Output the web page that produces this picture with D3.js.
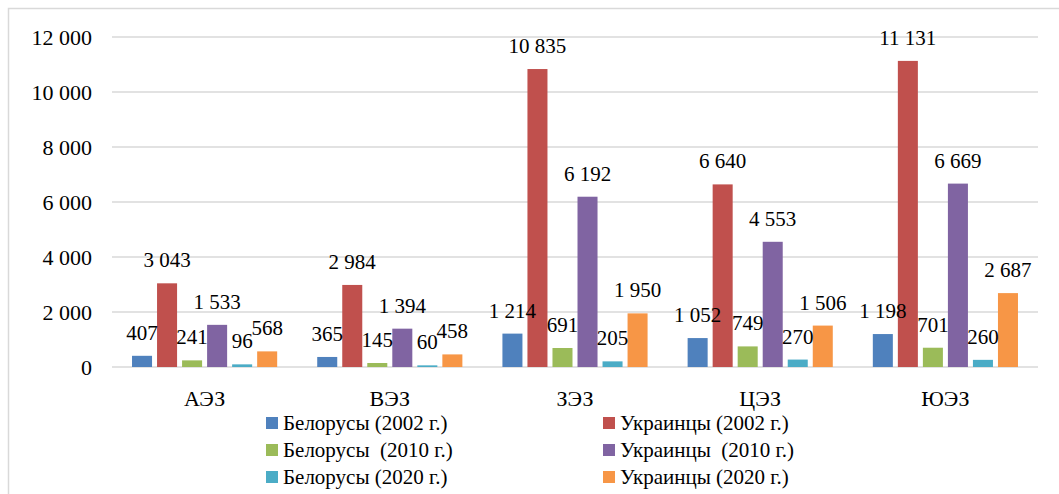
<!DOCTYPE html>
<html>
<head>
<meta charset="utf-8">
<script src="https://cdn.jsdelivr.net/npm/d3@7"></script>
<style>
  body { margin: 0; background: #fff; }
</style>
</head>
<body>
<div id="chart"></div>
<script>
const regions = ['АЭЗ', 'ВЭЗ', 'ЗЭЗ', 'ЦЭЗ', 'ЮЭЗ'];
const seriesNames = [
  'Белорусы (2002 г.)', 'Украинцы (2002 г.)',
  'Белорусы  (2010 г.)', 'Украинцы  (2010 г.)',
  'Белорусы (2020 г.)', 'Украинцы (2020 г.)'
];
const seriesColors = ['#4f81bd', '#c0504d', '#9bbb59', '#8064a2', '#4bacc6', '#f79646'];
const belarus2002 = [407, 365, 1214, 1052, 1198];
const ukraine2002 = [3043, 2984, 10835, 6640, 11131];
const belarus2010 = [241, 145, 691, 749, 701];
const ukraine2010 = [1533, 1394, 6192, 4553, 6669];
const belarus2020 = [96, 60, 205, 270, 260];
const ukraine2020 = [568, 458, 1950, 1506, 2687];
const yTicks = [0, 2000, 4000, 6000, 8000, 10000, 12000];

const seriesValues = [belarus2002, ukraine2002, belarus2010, ukraine2010, belarus2020, ukraine2020];

const FONT = 'Liberation Serif';
const config = {
  totalWidth: 1059,
  totalHeight: 494,
  plot: { left: 112, right: 1038, top: 37, bottom: 367 }
};

const fmt = d3.formatLocale({ decimal: ',', thousands: '\u00a0', grouping: [3], currency: ['', ''] }).format(',d');

const svg = d3.select('#chart').append('svg')
  .attr('width', config.totalWidth)
  .attr('height', config.totalHeight)
  .attr('font-family', FONT);

// outer frame
svg.append('rect')
  .attr('x', 8.5).attr('y', 8.5)
  .attr('width', 1070).attr('height', 520)
  .attr('fill', '#fff')
  .attr('stroke', '#d9d9d9')
  .attr('stroke-width', 1.5);

const x0 = d3.scaleBand()
  .domain(regions)
  .range([config.plot.left, config.plot.right])
  .padding(0);

const x1 = d3.scaleBand()
  .domain(d3.range(seriesNames.length))
  .range([0, x0.bandwidth()])
  .paddingInner(0.2)
  .paddingOuter(0.8);

const y = d3.scaleLinear()
  .domain([0, 12000])
  .range([config.plot.bottom, config.plot.top]);

// gridlines
svg.append('g')
  .selectAll('line')
  .data(yTicks)
  .enter()
  .append('line')
  .attr('x1', config.plot.left)
  .attr('x2', config.plot.right)
  .attr('y1', d => y(d))
  .attr('y2', d => y(d))
  .attr('stroke', '#d9d9d9')
  .attr('stroke-width', 1.5);

// y axis labels
const yAxis = svg.append('g')
  .attr('transform', `translate(${config.plot.left - 20},0)`)
  .call(d3.axisLeft(y).tickValues(yTicks).tickSize(0).tickFormat(fmt));
yAxis.attr('font-family', FONT);
yAxis.select('.domain').remove();
yAxis.selectAll('text')
  .attr('x', 0)
  .attr('font-family', FONT)
  .attr('font-size', 22)
  .attr('fill', '#000');

// bars
const rows = regions.map((r, i) => ({ region: r, values: seriesValues.map(s => s[i]) }));

const groups = svg.append('g')
  .selectAll('g')
  .data(rows)
  .enter()
  .append('g')
  .attr('transform', d => `translate(${x0(d.region)},0)`);

groups.selectAll('rect')
  .data(d => d.values.map((v, k) => ({ k, v })))
  .enter()
  .append('rect')
  .attr('x', d => x1(d.k))
  .attr('y', d => y(d.v))
  .attr('width', x1.bandwidth())
  .attr('height', d => y(0) - y(d.v))
  .attr('fill', d => seriesColors[d.k]);

groups.selectAll('text')
  .data(d => d.values.map((v, k) => ({ k, v })))
  .enter()
  .append('text')
  .attr('x', d => x1(d.k) + x1.bandwidth() / 2)
  .attr('y', d => y(d.v) - 16)
  .attr('text-anchor', 'middle')
  .attr('font-family', FONT)
  .attr('font-size', 21)
  .attr('fill', '#000')
  .text(d => fmt(d.v));

// x axis labels
svg.append('g')
  .selectAll('text')
  .data(regions)
  .enter()
  .append('text')
  .attr('x', d => x0(d) + x0.bandwidth() / 2)
  .attr('y', 406)
  .attr('text-anchor', 'middle')
  .attr('font-family', FONT)
  .attr('font-size', 22)
  .attr('fill', '#000')
  .text(d => d);

// legend
const legendCols = [266, 603];
const legendRows = [423, 450, 477];
const legend = svg.append('g')
  .selectAll('g')
  .data(seriesNames)
  .enter()
  .append('g')
  .attr('transform', (d, i) => `translate(${legendCols[i % 2]},${legendRows[Math.floor(i / 2)]})`);

legend.append('rect')
  .attr('x', 0).attr('y', -6)
  .attr('width', 12).attr('height', 12)
  .attr('fill', (d, i) => seriesColors[i]);

legend.append('text')
  .attr('x', 17)
  .attr('y', 7)
  .attr('font-family', FONT)
  .attr('font-size', 21)
  .attr('fill', '#000')
  .style('white-space', 'pre')
  .text(d => d);
</script>
</body>
</html>
